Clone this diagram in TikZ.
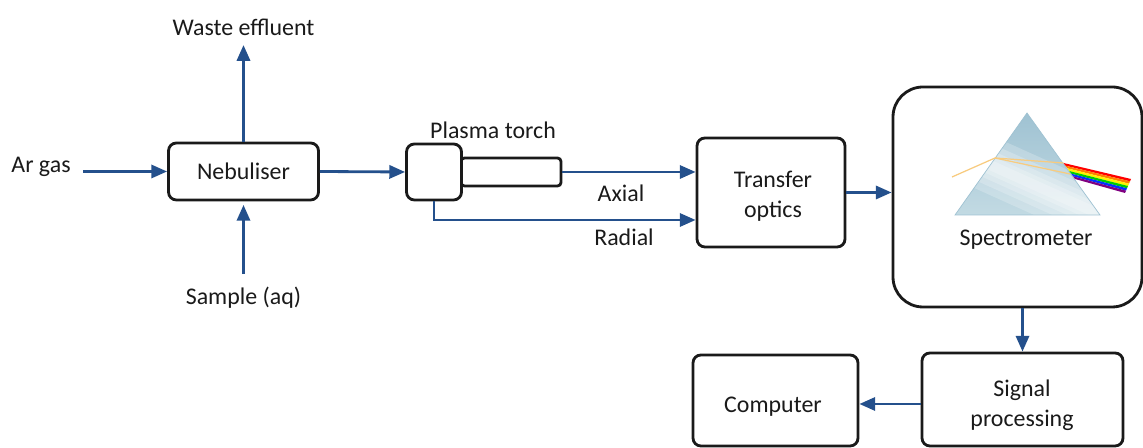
\documentclass[tikz,border=0pt]{standalone}
\usepackage{fontspec}
\setmainfont{Carlito}
\usetikzlibrary{arrows.meta}
\definecolor{flow-blue}{HTML}{24508C}
\definecolor{jet}{HTML}{1A1A1A}
\definecolor{prism-dark}{HTML}{9FC2D2}
\definecolor{prism-light}{HTML}{C2DAE3}
\definecolor{ray}{HTML}{F8CB7E}

\begin{document}
\begin{tikzpicture}[every node/.style={font=\fontsize{13.6}{17}\selectfont, text=jet, align=center},
    blk/.style={draw=jet, line width=1.6pt, rounded corners=4.5pt, fill=white},
    flow/.style={-{Triangle[length=9pt,width=7.5pt]}, line width=1.6pt, color=flow-blue}]
    \useasboundingbox (0,0) rectangle (22.86,8.96);
    % sample introduction
    \node[blk, minimum width=3.0cm, minimum height=1.14cm] (neb) at (4.87, 5.53) {Nebuliser};
    \node (ar) at (0.82, 5.62) {Ar gas};
    \coordinate (arin) at (1.66, 5.53);
    \node (waste) at (4.87, 8.42) {Waste effluent};
    \node (sample) at (4.87, 3.0) {Sample (aq)};
    \draw[flow] (arin) -- (neb.west);
    \draw[flow, shorten >=2pt] (neb.north) -- (waste.south);
    \draw[flow, shorten <=4pt, shorten >=2pt] (sample.north) -- (neb.south);
    % torch
    \node[blk, rounded corners=2pt, minimum width=2.0cm, minimum height=0.56cm]
      (tube) at (10.22, 5.52) {};
    \node[blk, minimum width=1.1cm, minimum height=1.12cm] (torch) at (8.68, 5.52) {};
    \node (tl) at (9.86, 6.36) {Plasma torch};
    \draw[flow] (neb.east) -- (torch.west);
    % optics
    \node[blk, minimum width=2.96cm, minimum height=2.18cm] (optics) at (15.42, 5.11) {};
    \node (ol) at (15.46, 5.04) {Transfer\\optics};
    \coordinate (radial) at (12.0, 4.56);
    \draw[flow] (tube.east) -- (optics.west |- tube.east);
    \draw[flow] (torch.south) |- (optics.west |- radial);
    \node (ax) at (12.42, 5.1) {Axial};
    \node (rd) at (12.48, 4.22) {Radial};
    % spectrometer
    \node[blk, rounded corners=0.6cm, minimum width=4.98cm, minimum height=4.4cm]
      (spec) at (20.35, 5.02) {};
    \node (sl) at (20.52, 4.16) {Spectrometer};
    \draw[flow] (optics.east) -- (spec.west |- optics.east);
    % prism with a soft highlight
    \begin{scope}
      \clip (20.54, 6.7) -- (19.1, 4.66) -- (22.0, 4.66) -- cycle;
      \shade[top color=prism-dark, bottom color=prism-light] (19.1, 4.66) rectangle (22.0, 6.7);
      \foreach \w in {0.55, 0.4, 0.28, 0.18, 0.1}
        \fill[white, opacity=0.22] ({19.0+0.41*\w}, {6.02+0.91*\w}) -- ({22.4+0.41*\w}, {4.49+0.91*\w})
          -- ({22.4-0.41*\w}, {4.49-0.91*\w}) -- ({19.0-0.41*\w}, {6.02-0.91*\w}) -- cycle;
    \end{scope}
    \draw[prism-dark, line width=0.4pt] (20.54, 6.7) -- (19.1, 4.66) -- (22.0, 4.66) -- cycle;
    % dispersed beam
    \foreach \c [count=\i from 0] in {red, orange, yellow, green!80!black, blue!80!cyan, violet} {
      \fill[\c] ({21.27+0.23*\i/6}, {5.7-0.32*\i/6}) -- ({21.27+0.23*(\i+1)/6}, {5.7-0.32*(\i+1)/6})
        -- ({22.62-0.12*(\i+1)/6}, {5.38-0.28*(\i+1)/6}) -- ({22.62-0.12*\i/6}, {5.38-0.28*\i/6}) -- cycle;
    }
    \draw[ray, line width=0.7pt] (19.04, 5.42) -- (19.9, 5.8) -- (21.27, 5.7);
    \draw[ray, line width=0.7pt] (19.9, 5.8) -- (21.4, 5.48);
    % detection
    \node[blk, minimum width=4.02cm, minimum height=1.86cm] (sig) at (20.45, 0.97) {};
    \node (sgl) at (20.44, 0.86) {Signal\\processing};
    \node[blk, minimum width=3.3cm, minimum height=1.82cm] (comp) at (15.51, 0.95) {};
    \node (cl) at (15.46, 0.82) {Computer};
    \draw[flow] (spec.south -| sig.north) -- (sig.north);
    \draw[flow] (sig.west |- 0,0.88) -- (comp.east |- 0,0.88);
  \end{tikzpicture}
\end{document}
